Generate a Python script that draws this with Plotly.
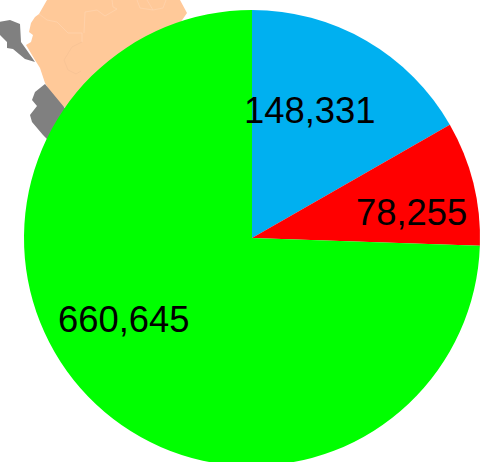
import plotly.graph_objects as go

W, H = 488, 476
categories = ["Blue", "Red", "Green"]
values = [148331, 78255, 660645]
colors = ["#00B0F0", "#FF0000", "#00FF00"]

label_x = [310, 411, 124]
label_y = [110, 212, 319]

peach_x = [47, 39, 35, 31, 29, 33, 31, 26, 35, 40, 45, 55, 64, 120, 187, 180]
peach_y = [0, 14, 17, 23, 32, 35, 42, 45, 60, 68, 83, 100, 107, 110, 13, 0]
gray1_x = [-2, 10, 20, 21, 26, 35, 25, 13, 7, 7, -2]
gray1_y = [22, 20, 24, 42, 49, 62, 59, 49, 48, 42, 33]
gray2_x = [45, 35, 32, 37, 30, 32, 43, 48, 80, 64]
gray2_y = [84, 92, 100, 106, 115, 122, 135, 140, 130, 107]

white_paths = [
    ([39, 47, 57, 68, 82, 82], [14, 20, 22, 33, 33, 42]),
    ([84, 85, 97, 105, 117, 113, 112], [33, 12, 10, 16, 9, 7, 0]),
    ([137, 140, 153, 163, 166], [0, 8, 10, 8, 0]),
    ([147, 153], [0, 10]),
]
tan_x = [82, 72, 64, 68, 76, 81]
tan_y = [42, 47, 60, 70, 74, 71]

fig = go.Figure()
for xs, ys, col in [(peach_x, peach_y, "#FFC999"), (gray1_x, gray1_y, "#808080"), (gray2_x, gray2_y, "#808080")]:
    fig.add_trace(go.Scatter(x=xs, y=ys, mode="lines", fill="toself", fillcolor=col, cliponaxis=True,
                             line=dict(width=0, color=col, simplify=False), hoverinfo="skip", showlegend=False))
for xs, ys in white_paths:
    fig.add_trace(go.Scatter(x=xs, y=ys, mode="lines", line=dict(width=0.5, color="#FFD9B8", simplify=False),
                             hoverinfo="skip", showlegend=False))
fig.add_trace(go.Scatter(x=tan_x, y=tan_y, mode="lines", line=dict(width=0.4, color="#EDBB90", simplify=False),
                         hoverinfo="skip", showlegend=False))

fig.add_trace(go.Pie(labels=categories, values=values, sort=False, direction="clockwise", rotation=0,
                     marker=dict(colors=colors, line=dict(width=0)), textinfo="none", showlegend=False,
                     domain=dict(x=[24 / W, 480 / W], y=[1 - 466 / H, 1 - 10 / H])))

annotations = [
    dict(x=x, y=y, xref="x", yref="y", text=f"{v:,}", showarrow=False,
         font=dict(family="Liberation Sans", size=36.4, color="#000000"))
    for x, y, v in zip(label_x, label_y, values)
]

fig.update_layout(
    width=W, height=H, margin=dict(l=0, r=0, t=0, b=0),
    paper_bgcolor="white", plot_bgcolor="white", showlegend=False,
    xaxis=dict(range=[0, W], visible=False, fixedrange=True),
    yaxis=dict(range=[H, 0], visible=False, fixedrange=True),
    annotations=annotations,
)
fig.write_html("out.html", config=dict(displayModeBar=False),
               post_script="document.body.style.margin='0';document.documentElement.style.overflow='hidden';document.body.style.overflow='hidden';")
